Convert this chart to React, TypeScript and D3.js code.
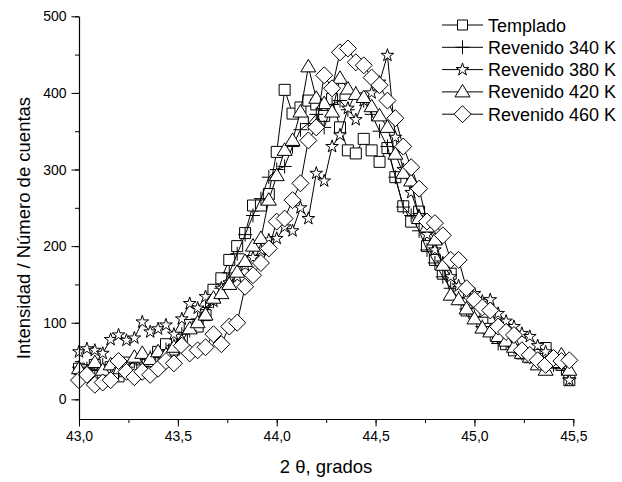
import React, { useEffect, useRef } from 'react';
import * as d3 from 'd3';

const twoTheta = [
  43.0, 43.04, 43.08, 43.12, 43.16, 43.2, 43.24, 43.28, 43.32, 43.36, 43.4, 43.44, 43.48,
  43.52, 43.56, 43.6, 43.64, 43.68, 43.72, 43.76, 43.8, 43.84, 43.88, 43.92, 43.96, 44.0,
  44.04, 44.08, 44.12, 44.16, 44.2, 44.24, 44.28, 44.32, 44.36, 44.4, 44.44, 44.48, 44.52,
  44.56, 44.6, 44.64, 44.68, 44.72, 44.76, 44.8, 44.84, 44.88, 44.92, 44.96, 45.0, 45.04,
  45.08, 45.12, 45.16, 45.2, 45.24, 45.28, 45.32, 45.36, 45.4, 45.44, 45.48,
];

const templado = [
  40, 38, 45, 35, 42, 30, 48, 40, 45, 50, 62, 72, 65,
  80, 97, 95, 110, 143, 158, 182, 200, 217, 253, 253, 268, 323,
  404, 373, 381, 390, 385, 370, 392, 355, 325, 321, 340, 325, 310,
  328, 290, 252, 232, 245, 200, 182, 164, 164, 140, 116, 112, 100,
  92, 80, 72, 64, 60, 55, 58, 67, 48, 45, 25,
];

const rev340 = [
  42, 40, 38, 45, 40, 35, 42, 50, 45, 55, 60, 65, 70,
  85, 90, 105, 120, 128, 145, 165, 190, 215, 240, 262, 290, 300,
  304, 330, 352, 360, 372, 355, 385, 390, 378, 400, 390, 372, 350,
  330, 290, 251, 240, 220, 195, 178, 160, 145, 132, 118, 108, 95,
  85, 73, 74, 68, 60, 55, 52, 48, 45, 40, 28,
];

const rev380 = [
  62, 66, 64, 60, 78, 84, 77, 80, 101, 88, 92, 97, 85,
  105, 125, 119, 134, 128, 145, 152, 160, 175, 185, 195, 208, 210,
  225, 220, 250, 236, 295, 285, 330, 345, 380, 365, 390, 400, 414,
  449, 342, 300, 270, 240, 215, 195, 178, 160, 148, 139, 138, 128,
  130, 112, 102, 95, 86, 82, 70, 62, 55, 50, 25,
];

const rev420 = [
  40, 35, 48, 38, 45, 40, 36, 55, 60, 52, 62, 58, 68,
  75, 92, 100, 110, 132, 138, 150, 166, 180, 200, 210, 260, 292,
  325, 338, 375, 434, 393, 386, 375, 419, 405, 398, 394, 382, 370,
  355, 320, 295, 285, 236, 225, 208, 175, 136, 130, 118, 105, 93,
  88, 82, 76, 68, 60, 55, 45, 38, 48, 58, 38,
];

const rev460 = [
  25, 32, 19, 22, 25, 50, 36, 29, 36, 32, 40, 50, 47,
  70, 60, 64, 68, 85, 72, 95, 100, 147, 162, 178, 197, 232,
  236, 260, 282, 338, 355, 423, 406, 453, 458, 440, 436, 420, 410,
  390, 367, 330, 303, 275, 232, 230, 214, 182, 182, 145, 130, 120,
  116, 95, 88, 84, 64, 58, 51, 45, 54, 50, 51,
];

const seriesNames = ['Templado', 'Revenido 340 K', 'Revenido 380 K', 'Revenido 420 K', 'Revenido 460 K'];
const seriesValues = [templado, rev340, rev380, rev420, rev460];
const markerKinds = ['square', 'plus', 'star', 'triangle', 'diamond'];

const xTicks = [43.0, 43.5, 44.0, 44.5, 45.0, 45.5];
const yTicks = [0, 100, 200, 300, 400, 500];

const starPath = d3.symbol().type(d3.symbolStar).size(50)();

function markerPath(kind, legend) {
  if (kind === 'square') {
    const h = legend ? 5 : 5.5;
    return `M${-h},${-h}H${h}V${h}H${-h}Z`;
  }
  if (kind === 'plus') return 'M-7,0H7M0,-7V7';
  if (kind === 'star') return starPath;
  if (kind === 'triangle') return 'M0,-7.5L7.5,5L-7.5,5Z';
  return 'M0,-8.5L8.5,0L0,8.5L-8.5,0Z';
}

export default function App() {
  const node = useRef(null);

  useEffect(() => {
    const svg = d3.select(node.current);
    svg.selectAll('*').remove();

    const x = d3.scaleLinear().domain([43, 45.5]).range([79, 573.3]);
    const y = d3.scaleLinear().domain([-25, 500]).range([418.5, 16.3]);
    const font = 'Arial, "Liberation Sans", sans-serif';

    const plot = svg.append('g');
    seriesValues.forEach((vals, i) => {
      const pts = twoTheta.map((t, j) => [x(t), y(vals[j])]);
      const g = plot.append('g');
      g.append('path')
        .attr('d', d3.line()(pts))
        .attr('fill', 'none')
        .attr('stroke', '#000')
        .attr('stroke-width', 1);
      g.selectAll('path.m')
        .data(pts)
        .enter()
        .append('path')
        .attr('class', 'm')
        .attr('transform', d => `translate(${d[0]},${d[1]})`)
        .attr('d', markerPath(markerKinds[i], false))
        .attr('fill', markerKinds[i] === 'plus' ? 'none' : '#fff')
        .attr('stroke', '#000')
        .attr('stroke-width', 1);
    });

    // axes
    const xAxis = svg
      .append('g')
      .attr('transform', 'translate(0,419)')
      .call(
        d3
          .axisBottom(x)
          .tickValues(d3.range(43, 45.51, 0.25))
          .tickSize(4)
          .tickSizeOuter(0)
          .tickFormat(() => '')
      );
    xAxis.select('.domain').attr('stroke-width', 1.2);
    const xMajor = svg
      .append('g')
      .attr('transform', 'translate(0,419)')
      .call(
        d3
          .axisBottom(x)
          .tickValues(xTicks)
          .tickSize(7.5)
          .tickSizeOuter(0)
          .tickPadding(5)
          .tickFormat(d => d3.format('.1f')(d).replace('.', ','))
      );
    xMajor.selectAll('text').attr('font-size', 14).attr('font-family', font).attr('fill', '#000');

    const yAxis = svg
      .append('g')
      .attr('transform', 'translate(79,0)')
      .call(
        d3
          .axisLeft(y)
          .tickValues(d3.range(0, 501, 50))
          .tickSize(4)
          .tickSizeOuter(0)
          .tickFormat(() => '')
      );
    yAxis.select('.domain').attr('stroke-width', 1.2);
    const yMajor = svg
      .append('g')
      .attr('transform', 'translate(79,0)')
      .call(
        d3
          .axisLeft(y)
          .tickValues(yTicks)
          .tickSize(7.5)
          .tickSizeOuter(0)
          .tickPadding(5)
      );
    yMajor.selectAll('text').attr('font-size', 14).attr('font-family', font).attr('fill', '#000');

    svg
      .append('text')
      .attr('x', 326)
      .attr('y', 473)
      .attr('text-anchor', 'middle')
      .attr('font-family', font)
      .attr('font-size', 18.5)
      .text('2 θ, grados');

    svg
      .append('text')
      .attr('transform', 'translate(30,228) rotate(-90)')
      .attr('text-anchor', 'middle')
      .attr('font-family', font)
      .attr('font-size', 18.5)
      .text('Intensidad / Número de cuentas');

    // legend
    const legend = svg.append('g');
    seriesNames.forEach((name, i) => {
      const cy = 25 + i * 22.3;
      const row = legend.append('g').attr('transform', `translate(0,${cy})`);
      row.append('line')
        .attr('x1', 442)
        .attr('x2', 483)
        .attr('stroke', '#000')
        .attr('stroke-width', 1);
      row.append('path')
        .attr('transform', 'translate(462.5,0)')
        .attr('d', markerPath(markerKinds[i], true))
        .attr('fill', markerKinds[i] === 'plus' ? 'none' : '#fff')
        .attr('stroke', '#000');
      row.append('text')
        .attr('x', 488)
        .attr('y', 6.5)
        .attr('font-family', font)
        .attr('font-size', 18)
        .text(name);
    });
  }, []);

  return (
    <svg
      ref={node}
      width={622}
      height={482}
      style={{ position: 'absolute', left: 0, top: 0, background: '#fff' }}
    />
  );
}
